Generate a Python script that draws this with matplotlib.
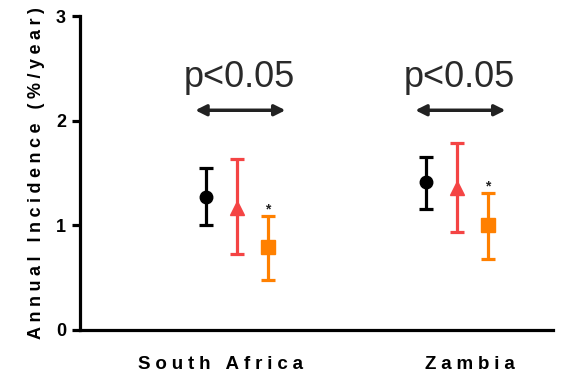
import matplotlib
matplotlib.use("Agg")
import matplotlib.pyplot as plt
import numpy as np

countries = ["South Africa", "Zambia"]
series_colors = ["#000000", "#F44444", "#FF8000"]
series_markers = ["o", "^", "s"]

# mean, lower, upper per series, one value per country
means = [[1.27, 1.41], [1.17, 1.36], [0.79, 1.00]]
lowers = [[1.00, 1.16], [0.73, 0.94], [0.48, 0.68]]
uppers = [[1.55, 1.65], [1.63, 1.79], [1.09, 1.31]]
p_labels = ["p<0.05", "p<0.05"]
y_ticks = [0, 1, 2, 3]

OFFSETS = [-0.14, 0.0, 0.14]
LABEL_SHIFT = [-0.077, 0.059]
HAIR = "\u200a"


def spaced(text: str, n: int = 2) -> str:
    return (HAIR * n).join(text)


plt.rcParams["font.family"] = ["Liberation Sans", "DejaVu Sans"]

fig = plt.figure(figsize=(5.64, 3.83), dpi=100)
ax = fig.add_axes([0.1418, 0.1384, 0.8387, 0.8196])

x = np.arange(len(countries))
for i in range(3):
    m = np.array(means[i])
    lo = m - np.array(lowers[i])
    hi = np.array(uppers[i]) - m
    ax.errorbar(
        x + OFFSETS[i], m, yerr=[lo, hi],
        fmt=series_markers[i], color=series_colors[i], ms=9 if i == 0 else 9.5,
        elinewidth=2.3, capsize=5, capthick=2.3, zorder=3,
    )

# significance stars on the third series
for j in range(len(countries)):
    ax.text(x[j] + OFFSETS[2], uppers[2][j] - 0.005, "*", ha="center", va="bottom",
            fontsize=10, fontweight="bold", color="#222222")

# p-value arrows
for j in range(len(countries)):
    ax.annotate("", xy=(x[j] - 0.19, 2.1), xytext=(x[j] + 0.22, 2.1),
                arrowprops=dict(arrowstyle="<|-|>", color="#222222", lw=2.5,
                                mutation_scale=16, shrinkA=0, shrinkB=0))
    ax.text(x[j] + 0.01, 2.41, p_labels[j], ha="center", va="center",
            fontsize=26, color="#2a2a2a")

ax.set_xlim(-0.714, 1.436)
ax.set_ylim(0, 3)
ax.set_yticks(y_ticks)
ax.set_yticklabels([str(t) for t in y_ticks], fontweight="bold", fontsize=13)
ax.set_xticks(x + np.array(LABEL_SHIFT))
ax.set_xticklabels([spaced(c, 3) for c in countries], fontweight="bold", fontsize=13.5)
ax.tick_params(axis="x", length=0, pad=19)
ax.tick_params(axis="y", length=6, width=2.3, direction="out", pad=4)
ax.set_ylabel(spaced("Annual Incidence (%/year)", 3), fontweight="bold", fontsize=13, labelpad=8)

for side in ["top", "right"]:
    ax.spines[side].set_visible(False)
for side in ["left", "bottom"]:
    ax.spines[side].set_linewidth(2.3)

fig.savefig("out.png", dpi=100)
